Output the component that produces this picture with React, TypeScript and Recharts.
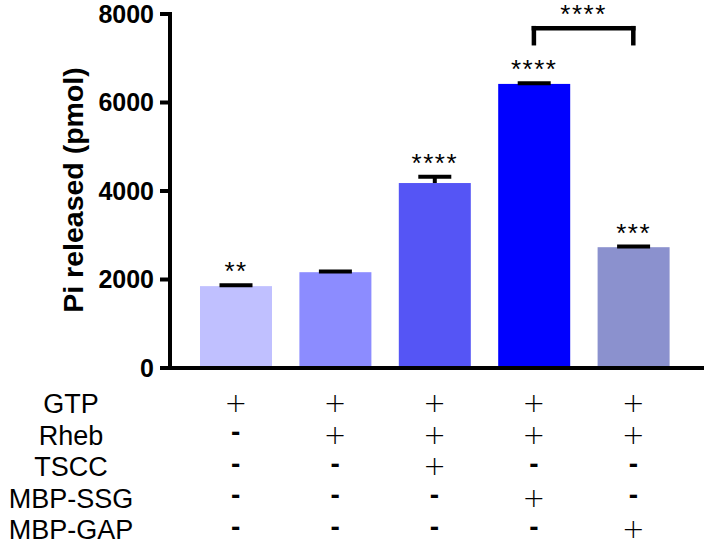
import { BarChart, Bar, XAxis, YAxis, Cell, ReferenceLine } from 'recharts'

// one entry per bar (reaction mix)
const conditions = ['GTP', 'GTP+Rheb', 'GTP+Rheb+TSCC', 'GTP+Rheb+SSG', 'GTP+Rheb+GAP']
const piReleased = [1850, 2165, 4180, 6420, 2730]
const piSd = [20, 15, 140, 15, 15]
const stars = ['**', '', '****', '****', '***']
const barColors = ['#C0C0FF', '#8C8CFF', '#5555F5', '#0000FF', '#8B91CE']

// reagent table under the axis
const rowLabels = ['GTP', 'Rheb', 'TSCC', 'MBP-SSG', 'MBP-GAP']
const gtpRow = ['+', '+', '+', '+', '+']
const rhebRow = ['-', '+', '+', '+', '+']
const tsccRow = ['-', '-', '+', '-', '-']
const ssgRow = ['-', '-', '-', '+', '-']
const gapRow = ['-', '-', '-', '-', '+']
const tableRows = [gtpRow, rhebRow, tsccRow, ssgRow, gapRow]

const yTicks = [0, 2000, 4000, 6000, 8000]

// comparison bracket between SSG and GAP bars
const bracketFrom = conditions[3]
const bracketTo = conditions[4]
const bracketTop = 7680
const bracketFoot = 7340
const bracketStars = '****'

const font = '"Liberation Sans", Arial, sans-serif'

const data = conditions.map((c, i) => ({ name: c, value: piReleased[i], sd: piSd[i], stars: stars[i] }))

function BarWithError(props: any) {
  const { x, y, width, height, fill, payload } = props
  const ppu = height / payload.value
  const errY = y - payload.sd * ppu
  const cx = x + width / 2
  return (
    <g>
      <rect x={x} y={y} width={width} height={height} fill={fill} />
      <line x1={cx} x2={cx} y1={y} y2={errY} stroke="#000" strokeWidth={4} />
      <line x1={cx - 16.5} x2={cx + 16.5} y1={errY} y2={errY} stroke="#000" strokeWidth={4} />
      {payload.stars && (
        <text x={cx} y={errY - 5} textAnchor="middle" fontSize={26} letterSpacing={1.5} fontFamily={font} fill="#000">
          {payload.stars}
        </text>
      )}
    </g>
  )
}

function TableTick(props: any) {
  const { x, y, index } = props
  return (
    <g>
      {tableRows.map((row, r) => {
        const sym = row[index]
        const base = y + 35 + r * 31.5
        return sym === '+' ? (
          <text key={r} x={x} y={base + 9} textAnchor="middle" fontSize={27} fontWeight={200} fontFamily='"DejaVu Sans", sans-serif' fill="#000">+</text>
        ) : (
          <text key={r} x={x} y={base + 6.5} textAnchor="middle" fontSize={28} fontWeight="bold" fontFamily={font} fill="#000">-</text>
        )
      })}
    </g>
  )
}

export default function App() {
  return (
    <div style={{ position: 'absolute', left: 0, top: 0, background: '#fff' }}>
      <BarChart width={709} height={546} data={data} margin={{ top: 14, right: 7, bottom: 0, left: 0 }}>
        <XAxis
          dataKey="name"
          height={178}
          padding={{ left: 16, right: 19 }}
          axisLine={{ stroke: '#000', strokeWidth: 4, strokeLinecap: 'square' }}
          tickLine={false}
          tickSize={0}
          tickMargin={0}
          interval={0}
          tick={<TableTick />}
        />
        <YAxis
          width={170}
          domain={[0, 8000]}
          ticks={yTicks}
          interval={0}
          axisLine={{ stroke: '#000', strokeWidth: 4, strokeLinecap: 'square' }}
          tickLine={{ stroke: '#000', strokeWidth: 4 }}
          tickSize={10}
          tickMargin={6}
          tick={{ fontSize: 25, fontWeight: 'bold', fill: '#000', fontFamily: font }}
          label={{
            content: () => (
              <text x={83} y={190} transform="rotate(-90, 83, 190)" textAnchor="middle" fontSize={28.5} fontWeight="bold" fontFamily={font} fill="#000">
                Pi released (pmol)
              </text>
            ),
          }}
        />
        <Bar dataKey="value" barSize={72} isAnimationActive={false} shape={<BarWithError />}>
          {data.map((d, i) => (
            <Cell key={d.name} fill={barColors[i]} />
          ))}
        </Bar>
        <ReferenceLine
          segment={[{ x: bracketFrom, y: bracketTop }, { x: bracketTo, y: bracketTop }]}
          stroke="#000"
          strokeWidth={4.5}
          strokeLinecap="square"
          label={{
            content: (p: any) => (
              <text x={p.viewBox.x + p.viewBox.width / 2} y={p.viewBox.y - 5} textAnchor="middle" fontSize={26} letterSpacing={1.5} fontFamily={font} fill="#000">
                {bracketStars}
              </text>
            ),
          }}
        />
        <ReferenceLine segment={[{ x: bracketFrom, y: bracketFoot }, { x: bracketFrom, y: bracketTop }]} stroke="#000" strokeWidth={4.5} strokeLinecap="square" />
        <ReferenceLine segment={[{ x: bracketTo, y: bracketFoot }, { x: bracketTo, y: bracketTop }]} stroke="#000" strokeWidth={4.5} strokeLinecap="square" />
        <g>
          {rowLabels.map((label, r) => (
            <text key={label} x={71} y={413 + r * 31.5} textAnchor="middle" fontSize={27} fontFamily={font} fill="#000">
              {label}
            </text>
          ))}
        </g>
      </BarChart>
    </div>
  )
}
